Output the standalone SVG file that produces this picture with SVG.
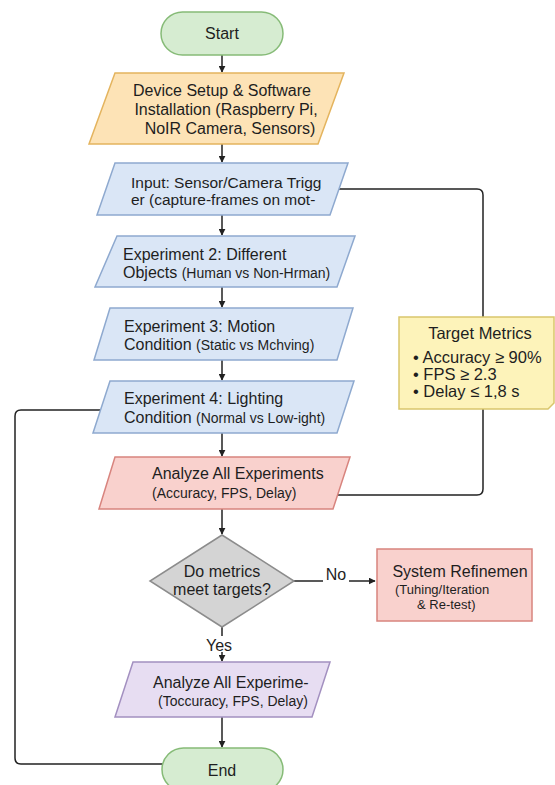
<svg xmlns="http://www.w3.org/2000/svg" width="555" height="785" viewBox="0 0 555 785">
<defs>
<marker id="ah" viewBox="0 0 10 10" refX="9" refY="5" markerWidth="7" markerHeight="7" orient="auto" markerUnits="userSpaceOnUse"><path d="M0,0 L10,5 L0,10 z" fill="#222"/></marker>
<style>
text{font-family:"Liberation Sans",Arial,sans-serif;fill:#1e1e1e;font-size:16px}
.s{font-size:14px}
.t{font-size:13px}
.m{font-size:16.5px}
.c{text-anchor:middle}
.e{stroke:#222;stroke-width:1.5;fill:none}
.g{fill:#d6ecd1;stroke:#86bb77;stroke-width:1.5}
.o{fill:#fde3b6;stroke:#e4b45e;stroke-width:1.5}
.b{fill:#dae6f6;stroke:#8ea9cf;stroke-width:1.5}
.r{fill:#f9d1cd;stroke:#d8847e;stroke-width:1.5}
.d{fill:#d4d4d4;stroke:#8c8c8c;stroke-width:1.5}
.p{fill:#e7ddf2;stroke:#a390c0;stroke-width:1.5}
.y{fill:#fdf3ba;stroke:#d9c66c;stroke-width:1.5}
</style>
</defs>
<rect width="555" height="785" fill="#fff"/>
<g id="connectors">
<path class="e" d="M222,55 V72" marker-end="url(#ah)"/>
<path class="e" d="M222,144 V162" marker-end="url(#ah)"/>
<path class="e" d="M222,215 V235" marker-end="url(#ah)"/>
<path class="e" d="M222,287 V307" marker-end="url(#ah)"/>
<path class="e" d="M222,360 V380" marker-end="url(#ah)"/>
<path class="e" d="M222,433 V456" marker-end="url(#ah)"/>
<path class="e" d="M222,509 V534" marker-end="url(#ah)"/>
<path class="e" d="M294,581 H323"/>
<path class="e" d="M349,581 H375" marker-end="url(#ah)"/>
<path class="e" d="M222,627 V636"/>
<path class="e" d="M222,652 V661" marker-end="url(#ah)"/>
<path class="e" d="M222,717 V747" marker-end="url(#ah)"/>
<path class="e" d="M339,189 H477 Q483,189 483,195 V489 Q483,495 477,495 H336"/>
<path class="e" d="M100,410 H21 Q15,410 15,416 V758 Q15,764 21,764 H163"/>
</g>
<g id="start">
<rect class="g" x="161" y="12" width="122" height="43" rx="21.5"/>
<text class="c" x="222" y="39">Start</text>
</g>
<g id="setup">
<polygon class="o" points="115,73 344,73 318,144 89,144"/>
<text class="c" x="222" y="96">Device Setup &amp; Software</text>
<text class="c" x="226" y="115">Installation (Raspberry Pi,</text>
<text class="c" x="230" y="134">NoIR Camera, Sensors)</text>
</g>
<g id="input">
<polygon class="b" points="115,163 348,163 330,215 97,215"/>
<text x="131" y="188" style="font-size:15.5px">Input: Sensor/Camera Trigg</text>
<text x="131" y="205" style="font-size:15.5px">er (capture-frames on mot-</text>
</g>
<g id="exp2">
<polygon class="b" points="117,236 355,236 337,287 95,287"/>
<text x="123" y="260">Experiment 2: Different</text>
<text x="123" y="278">Objects <tspan class="s">(Human vs Non-Hrman)</tspan></text>
</g>
<g id="exp3">
<polygon class="b" points="110,308 353,308 337,360 94,360"/>
<text x="124" y="332">Experiment 3: Motion</text>
<text x="124" y="350">Condition <tspan class="s">(Static vs Mchving)</tspan></text>
</g>
<g id="exp4">
<polygon class="b" points="110,381 354,381 337,433 93,433"/>
<text x="124" y="404">Experiment 4: Lighting</text>
<text x="124" y="423">Condition <tspan class="s">(Normal vs Low-ight)</tspan></text>
</g>
<g id="analyze">
<polygon class="r" points="115,457 350,457 333,509 99,509"/>
<text x="152" y="479">Analyze All Experiments</text>
<text class="s" x="152" y="498">(Accuracy, FPS, Delay)</text>
</g>
<g id="metrics">
<path class="y" d="M399,317 H554 V403 L548,409 H399 Z"/>
<text class="c m" x="480" y="339">Target Metrics</text>
<text class="m" x="413" y="363">• Accuracy ≥ 90%</text>
<text class="m" x="413" y="380">• FPS ≥ 2.3</text>
<text class="m" x="413" y="397">• Delay ≤ 1,8 s</text>
</g>
<g id="decision">
<polygon class="d" points="222,535 294,581 222,627 150,581"/>
<text class="c" x="222" y="577">Do metrics</text>
<text class="c" x="222" y="595">meet targets?</text>
</g>
<text class="c" x="336" y="580">No</text>
<text class="c" x="219" y="651">Yes</text>
<g id="refine">
<rect class="r" x="377" y="549" width="155" height="72"/>
<text class="c" x="460" y="577">System Refinemen</text>
<text class="t" x="395" y="594">(Tuhing/Iteration</text>
<text class="t" x="417" y="609">&amp; Re-test)</text>
</g>
<g id="final">
<polygon class="p" points="133,662 330,662 312,717 115,717"/>
<text x="153" y="688">Analyze All Experime-</text>
<text class="s" x="158" y="706">(Toccuracy, FPS, Delay)</text>
</g>
<g id="end">
<rect class="g" x="162" y="748" width="121" height="43" rx="21.5"/>
<text class="c" x="222" y="776">End</text>
</g>
</svg>
